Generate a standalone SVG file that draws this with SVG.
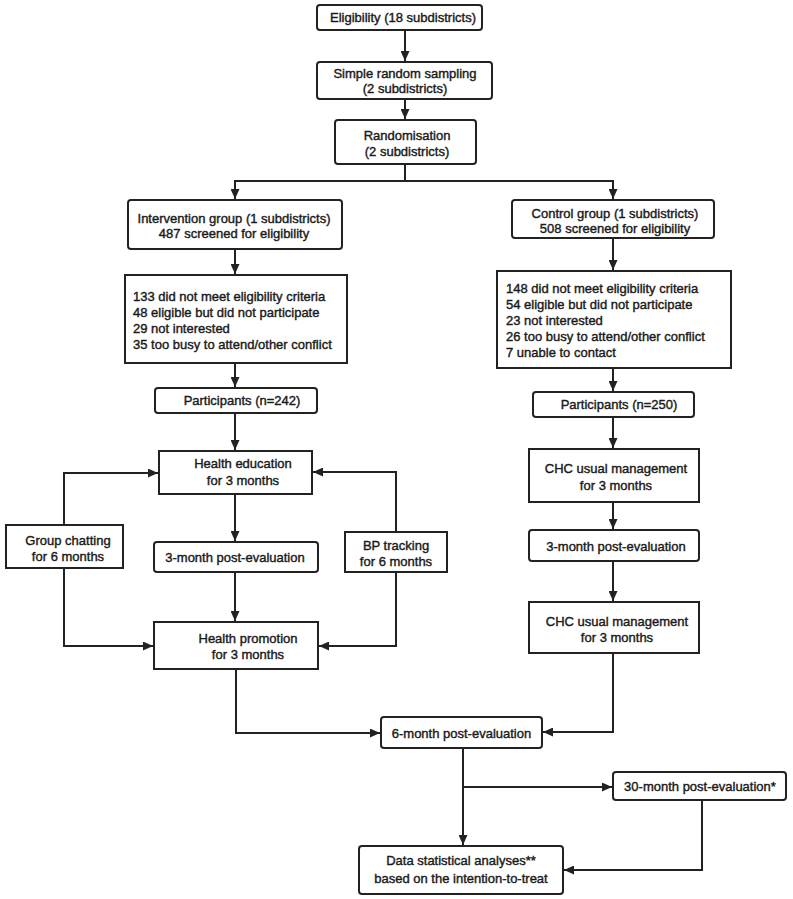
<svg xmlns="http://www.w3.org/2000/svg" width="793" height="899" viewBox="0 0 793 899">
<defs>
<style>
.box{fill:#fff;stroke:#222;stroke-width:2}
.t{font-family:"Liberation Sans",Arial,sans-serif;font-size:13px;fill:#1a1a1a;stroke:#1a1a1a;stroke-width:0.4;text-anchor:middle}
.l{text-anchor:start}
.c{fill:none;stroke:#222;stroke-width:2}
</style>
<marker id="ah" markerUnits="userSpaceOnUse" markerWidth="11" markerHeight="9" refX="10" refY="4.5" orient="auto">
<path d="M0,0 L10,4.5 L0,9 z" fill="#222"/>
</marker>
</defs>
<rect width="793" height="899" fill="#fff"/>
<g id="connectors">
<path class="c" d="M405,30 V61" marker-end="url(#ah)"/>
<path class="c" d="M405,99 V119" marker-end="url(#ah)"/>
<path class="c" d="M405,164 V181"/>
<path class="c" d="M405,181 H235 V199" marker-end="url(#ah)"/>
<path class="c" d="M405,181 H613 V199" marker-end="url(#ah)"/>
<path class="c" d="M235,249 V274" marker-end="url(#ah)"/>
<path class="c" d="M235,363 V387" marker-end="url(#ah)"/>
<path class="c" d="M235,413 V450" marker-end="url(#ah)"/>
<path class="c" d="M235,494 V541" marker-end="url(#ah)"/>
<path class="c" d="M235,572 V621" marker-end="url(#ah)"/>
<path class="c" d="M64,525 V473 H158" marker-end="url(#ah)"/>
<path class="c" d="M64,568 V646 H153" marker-end="url(#ah)"/>
<path class="c" d="M396,532 V472 H313" marker-end="url(#ah)"/>
<path class="c" d="M396,572 V646 H319" marker-end="url(#ah)"/>
<path class="c" d="M613,238 V270" marker-end="url(#ah)"/>
<path class="c" d="M613,368 V391" marker-end="url(#ah)"/>
<path class="c" d="M613,417 V448" marker-end="url(#ah)"/>
<path class="c" d="M613,502 V529" marker-end="url(#ah)"/>
<path class="c" d="M613,561 V601" marker-end="url(#ah)"/>
<path class="c" d="M613,653 V732 H543" marker-end="url(#ah)"/>
<path class="c" d="M236,669 V733 H380" marker-end="url(#ah)"/>
<path class="c" d="M463,748 V845" marker-end="url(#ah)"/>
<path class="c" d="M463,787 H612" marker-end="url(#ah)"/>
<path class="c" d="M702,800 V870 H564" marker-end="url(#ah)"/>
</g>
<g id="eligibility">
<rect class="box" x="317" y="5" width="165" height="25" rx="3"/>
<text class="t" x="403" y="22">Eligibility (18 subdistricts)</text>
</g>
<g id="sampling">
<rect class="box" x="317" y="62" width="175" height="37" rx="3"/>
<text class="t" x="405" y="77.5">Simple random sampling</text>
<text class="t" x="405" y="92.5">(2 subdistricts)</text>
</g>
<g id="randomisation">
<rect class="box" x="335" y="120" width="141" height="44" rx="3"/>
<text class="t" x="407" y="139.5">Randomisation</text>
<text class="t" x="407" y="156">(2 subdistricts)</text>
</g>
<g id="intervention">
<rect class="box" x="128" y="200" width="214" height="49" rx="3"/>
<text class="t" x="234" y="222.5">Intervention group (1 subdistricts)</text>
<text class="t" x="234" y="237.5">487 screened for eligibility</text>
</g>
<g id="control">
<rect class="box" x="512" y="200" width="202" height="38" rx="3"/>
<text class="t" x="615" y="217.5">Control group (1 subdistricts)</text>
<text class="t" x="615" y="232.5">508 screened for eligibility</text>
</g>
<g id="excl-left">
<rect class="box" x="125" y="275" width="222" height="88"/>
<text class="t l" x="133" y="300.5">133 did not meet eligibility criteria</text>
<text class="t l" x="133" y="316.5">48 eligible but did not participate</text>
<text class="t l" x="133" y="332.5">29 not interested</text>
<text class="t l" x="133" y="348.5">35 too busy to attend/other conflict</text>
</g>
<g id="excl-right">
<rect class="box" x="497" y="271" width="234" height="97"/>
<text class="t l" x="506" y="292.5">148 did not meet eligibility criteria</text>
<text class="t l" x="506" y="308.5">54 eligible but did not participate</text>
<text class="t l" x="506" y="324.5">23 not interested</text>
<text class="t l" x="506" y="340.5">26 too busy to attend/other conflict</text>
<text class="t l" x="506" y="356.5">7 unable to contact</text>
</g>
<g id="participants-left">
<rect class="box" x="155" y="388" width="162" height="25" rx="3"/>
<text class="t" x="242" y="405">Participants (n=242)</text>
</g>
<g id="participants-right">
<rect class="box" x="533" y="392" width="161" height="25" rx="3"/>
<text class="t" x="619" y="409">Participants (n=250)</text>
</g>
<g id="health-education">
<rect class="box" x="159" y="451" width="153" height="43"/>
<text class="t" x="243" y="467.5">Health education</text>
<text class="t" x="243" y="484.5">for 3 months</text>
</g>
<g id="group-chatting">
<rect class="box" x="6" y="525" width="117" height="43"/>
<text class="t" x="68" y="544.5">Group chatting</text>
<text class="t" x="68" y="560.5">for 6 months</text>
</g>
<g id="post3-left">
<rect class="box" x="154" y="542" width="164" height="30" rx="3"/>
<text class="t" x="235" y="561.5">3-month post-evaluation</text>
</g>
<g id="bp-tracking">
<rect class="box" x="345" y="532" width="102" height="40"/>
<text class="t" x="396" y="549.5">BP tracking</text>
<text class="t" x="396" y="565.5">for 6 months</text>
</g>
<g id="health-promotion">
<rect class="box" x="154" y="622" width="164" height="47"/>
<text class="t" x="248" y="642.5">Health promotion</text>
<text class="t" x="248" y="658.5">for 3 months</text>
</g>
<g id="chc1">
<rect class="box" x="529" y="449" width="170" height="53"/>
<text class="t" x="616" y="472.5">CHC usual management</text>
<text class="t" x="616" y="489.5">for 3 months</text>
</g>
<g id="post3-right">
<rect class="box" x="529" y="530" width="170" height="31" rx="3"/>
<text class="t" x="616" y="550.5">3-month post-evaluation</text>
</g>
<g id="chc2">
<rect class="box" x="529" y="602" width="170" height="51"/>
<text class="t" x="617" y="625.5">CHC usual management</text>
<text class="t" x="617" y="641.5">for 3 months</text>
</g>
<g id="post6">
<rect class="box" x="381" y="717" width="161" height="31" rx="3"/>
<text class="t" x="461.5" y="737.5">6-month post-evaluation</text>
</g>
<g id="post30">
<rect class="box" x="613" y="772" width="173" height="28" rx="3"/>
<text class="t" x="700" y="790.5">30-month post-evaluation*</text>
</g>
<g id="analysis">
<rect class="box" x="359" y="846" width="204" height="48" rx="3"/>
<text class="t" x="461" y="864.5">Data statistical analyses**</text>
<text class="t" x="461" y="882.5">based on the intention-to-treat</text>
</g>
</svg>
